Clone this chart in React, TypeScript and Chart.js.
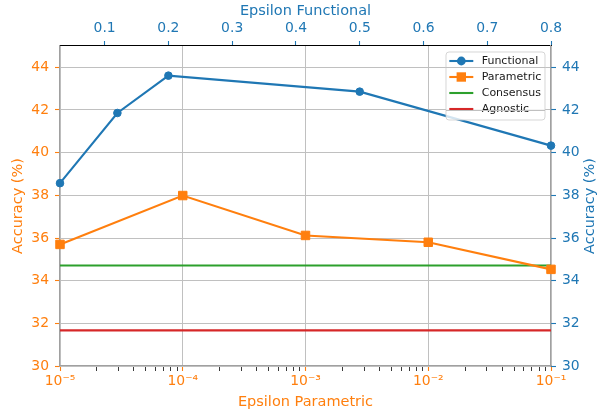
import React, { useEffect, useRef } from 'react';
import { Chart, registerables } from 'chart.js';

Chart.register(...registerables);

// ---- data ----
const functionalEps = [0.03, 0.12, 0.2, 0.5, 0.8];
const functionalAcc = [38.57, 41.86, 43.61, 42.86, 40.33];
const parametricEps = [1e-5, 1e-4, 1e-3, 1e-2, 1e-1];
const parametricAcc = [35.7, 37.99, 36.12, 35.8, 34.53];
const consensusAcc = 34.71;
const agnosticAcc = 31.67;
const topTickValues = [0.1, 0.2, 0.3, 0.4, 0.5, 0.6, 0.7, 0.8];
const yTickValues = [30, 32, 34, 36, 38, 40, 42, 44];
const logExponents = [-5, -4, -3, -2, -1];
const seriesLabels = ['Functional', 'Parametric', 'Consensus', 'Agnostic'];
const yTitle = 'Accuracy (%)';

const BLUE = '#1f77b4';
const ORANGE = '#ff7f0e';
const GREEN = '#2ca02c';
const RED = '#d62728';
const GRID = '#c0c0c0';
const SPINE = '#a0a0a0';
const FONT = 'DejaVu Sans';
const TITLE_SIZE = 14.5;

const SUP: Record<string, string> = {
  '-': '\u207B', '0': '\u2070', '1': '\u00B9', '2': '\u00B2', '3': '\u00B3',
  '4': '\u2074', '5': '\u2075', '6': '\u2076', '7': '\u2077', '8': '\u2078', '9': '\u2079',
};
const sup = (s: string) => s.split('').map((c) => SUP[c] ?? c).join('');

const isMajor = (v: number) => {
  const l = Math.log10(v);
  return Math.abs(l - Math.round(l)) < 1e-6;
};

const legendPlugin = {
  id: 'mplLegend',
  afterDatasetsDraw(chart: any) {
    const { ctx, chartArea } = chart;
    const w = 99;
    const h = 68;
    const x1 = chartArea.right - 6;
    const x0 = x1 - w;
    const y0 = chartArea.top + 6;
    ctx.save();
    ctx.beginPath();
    if (ctx.roundRect) ctx.roundRect(x0, y0, w, h, 3);
    else ctx.rect(x0, y0, w, h);
    ctx.fillStyle = 'rgba(255,255,255,0.8)';
    ctx.fill();
    ctx.strokeStyle = 'rgba(204,204,204,0.8)';
    ctx.lineWidth = 1;
    ctx.stroke();

    chart.data.datasets.forEach((ds: any, i: number) => {
      const cy = y0 + 9 + i * 16;
      ctx.strokeStyle = ds.borderColor;
      ctx.lineWidth = 2.1;
      ctx.beginPath();
      ctx.moveTo(x0 + 3.3, cy);
      ctx.lineTo(x0 + 27.3, cy);
      ctx.stroke();
      const mx = x0 + 15.3;
      if (ds.pointRadius > 0) {
        ctx.fillStyle = ds.borderColor;
        ctx.beginPath();
        if (ds.pointStyle === 'rect') {
          ctx.rect(mx - 4.7, cy - 4.7, 9.4, 9.4);
        } else {
          ctx.arc(mx, cy, 4.4, 0, Math.PI * 2);
        }
        ctx.fill();
      }
      ctx.fillStyle = '#1a1a1a';
      ctx.font = `11px "${FONT}"`;
      ctx.textBaseline = 'middle';
      ctx.textAlign = 'left';
      ctx.fillText(ds.label, x0 + 35.7, cy);
    });

    // grid of the twin axis drawn over the legend
    ctx.beginPath();
    ctx.rect(x0, y0, w, h);
    ctx.clip();
    const ys = chart.scales.yLeft;
    ctx.strokeStyle = GRID;
    ctx.lineWidth = 1;
    ys.ticks.forEach((t: any) => {
      const py = Math.round(ys.getPixelForValue(t.value)) + 0.5;
      ctx.beginPath();
      ctx.moveTo(x0, py);
      ctx.lineTo(x1, py);
      ctx.stroke();
    });
    ctx.restore();
  },
};

// right axis title, reading bottom-to-top like the left one
const rightTitlePlugin = {
  id: 'rightTitle',
  afterDraw(chart: any) {
    const { ctx, chartArea } = chart;
    const sc = chart.scales.yRight;
    ctx.save();
    ctx.translate(sc.right - TITLE_SIZE * 0.6, (chartArea.top + chartArea.bottom) / 2);
    ctx.rotate(-Math.PI / 2);
    ctx.font = `${TITLE_SIZE}px "${FONT}"`;
    ctx.fillStyle = BLUE;
    ctx.textAlign = 'center';
    ctx.textBaseline = 'middle';
    ctx.fillText(yTitle, 0, 0);
    ctx.restore();
  },
};

export default function App() {
  const canvasRef = useRef<HTMLCanvasElement | null>(null);

  useEffect(() => {
    document.body.style.margin = '0';
    const canvas = canvasRef.current;
    if (!canvas) return;
    Chart.defaults.font.family = FONT;

    const tickFont = { family: FONT, size: 13.9 };
    const titleFont = { family: FONT, size: TITLE_SIZE };

    const chart = new Chart(canvas, {
      type: 'line',
      data: {
        datasets: [
          {
            label: seriesLabels[0],
            data: functionalEps.map((x, i) => ({ x, y: functionalAcc[i] })),
            xAxisID: 'xTop',
            yAxisID: 'yRight',
            borderColor: BLUE,
            backgroundColor: BLUE,
            pointBackgroundColor: BLUE,
            pointBorderColor: BLUE,
            borderWidth: 2.1,
            pointRadius: 3.8,
            pointBorderWidth: 1,
            pointStyle: 'circle',
            clip: false as any,
          },
          {
            label: seriesLabels[1],
            data: parametricEps.map((x, i) => ({ x, y: parametricAcc[i] })),
            xAxisID: 'xBottom',
            yAxisID: 'yLeft',
            borderColor: ORANGE,
            backgroundColor: ORANGE,
            pointBackgroundColor: ORANGE,
            pointBorderColor: ORANGE,
            borderWidth: 2.1,
            pointRadius: 6,
            pointBorderWidth: 1,
            pointStyle: 'rect',
            clip: false as any,
          },
          {
            label: seriesLabels[2],
            data: [
              { x: parametricEps[0], y: consensusAcc },
              { x: parametricEps[parametricEps.length - 1], y: consensusAcc },
            ],
            xAxisID: 'xBottom',
            yAxisID: 'yLeft',
            borderColor: GREEN,
            backgroundColor: GREEN,
            borderWidth: 2.1,
            pointRadius: 0,
          },
          {
            label: seriesLabels[3],
            data: [
              { x: parametricEps[0], y: agnosticAcc },
              { x: parametricEps[parametricEps.length - 1], y: agnosticAcc },
            ],
            xAxisID: 'xBottom',
            yAxisID: 'yLeft',
            borderColor: RED,
            backgroundColor: RED,
            borderWidth: 2.1,
            pointRadius: 0,
          },
        ],
      },
      options: {
        responsive: false,
        animation: false,
        events: [],
        layout: { padding: 0 },
        plugins: {
          legend: { display: false },
          tooltip: { enabled: false },
        },
        scales: {
          xBottom: {
            type: 'logarithmic',
            position: 'bottom',
            min: 1e-5,
            max: 1e-1,
            afterBuildTicks: (scale: any) => {
              const vals: number[] = [];
              logExponents.forEach((e) => {
                if (e === logExponents[logExponents.length - 1]) {
                  vals.push(Math.pow(10, e));
                } else {
                  for (let k = 1; k <= 9; k++) vals.push(k * Math.pow(10, e));
                }
              });
              scale.ticks = vals.map((v) => ({ value: v }));
            },
            afterFit: (scale: any) => {
              scale.height = 46;
            },
            ticks: {
              autoSkip: false,
              maxRotation: 0,
              minRotation: 0,
              padding: 2,
              color: ORANGE,
              font: tickFont,
              callback: (v: any) => {
                const n = Number(v);
                if (!isMajor(n)) return '';
                return '10' + sup(String(Math.round(Math.log10(n))));
              },
            },
            grid: {
              drawOnChartArea: true,
              drawTicks: true,
              tickLength: 5,
              lineWidth: 1,
              color: (c: any) => (c.tick && isMajor(c.tick.value) ? GRID : 'rgba(0,0,0,0)'),
              tickColor: (c: any) => (c.tick && isMajor(c.tick.value) ? ORANGE : '#222'),
              tickWidth: (c: any) => (c.tick && isMajor(c.tick.value) ? 1.1 : 0.9),
            },
            border: { display: true, color: SPINE, width: 1.1 },
            title: {
              display: true,
              text: 'Epsilon Parametric',
              color: ORANGE,
              font: titleFont,
              padding: { top: 0, bottom: 1 },
            },
          },
          xTop: {
            type: 'linear',
            position: 'top',
            min: 0.03,
            max: 0.8,
            afterBuildTicks: (scale: any) => {
              scale.ticks = topTickValues.map((v) => ({ value: v }));
            },
            afterFit: (scale: any) => {
              scale.height = 46;
            },
            ticks: {
              autoSkip: false,
              maxRotation: 0,
              padding: 4,
              color: BLUE,
              font: tickFont,
              callback: (v: any) => Number(v).toFixed(1),
            },
            grid: {
              drawOnChartArea: false,
              drawTicks: true,
              tickLength: 5,
              tickColor: BLUE,
              tickWidth: 1.1,
            },
            border: { display: true, color: '#000', width: 1.1 },
            title: {
              display: true,
              text: 'Epsilon Functional',
              color: BLUE,
              font: titleFont,
              padding: { top: 3, bottom: 0 },
            },
          },
          yLeft: {
            type: 'linear',
            position: 'left',
            min: 30,
            max: 45,
            afterBuildTicks: (scale: any) => {
              scale.ticks = yTickValues.map((v) => ({ value: v }));
            },
            afterFit: (scale: any) => {
              scale.width = 60;
            },
            ticks: {
              padding: 6,
              color: ORANGE,
              font: tickFont,
              callback: (v: any) => String(v),
            },
            grid: {
              drawOnChartArea: true,
              drawTicks: true,
              tickLength: 5,
              color: GRID,
              lineWidth: 1,
              tickColor: ORANGE,
              tickWidth: 1.1,
            },
            border: { display: true, color: SPINE, width: 1.1 },
            title: {
              display: true,
              text: yTitle,
              color: ORANGE,
              font: titleFont,
              padding: { top: 10, bottom: 0 },
            },
          },
          yRight: {
            type: 'linear',
            position: 'right',
            min: 30,
            max: 45,
            afterBuildTicks: (scale: any) => {
              scale.ticks = yTickValues.map((v) => ({ value: v }));
            },
            afterFit: (scale: any) => {
              scale.width = 48;
            },
            ticks: {
              padding: 6,
              color: BLUE,
              font: tickFont,
              callback: (v: any) => String(v),
            },
            grid: {
              drawOnChartArea: false,
              drawTicks: true,
              tickLength: 5,
              tickColor: BLUE,
              tickWidth: 1.1,
            },
            border: { display: true, color: SPINE, width: 1.1 },
            title: { display: false },
          },
        },
      } as any,
      plugins: [legendPlugin, rightTitlePlugin],
    });

    return () => {
      chart.destroy();
    };
  }, []);

  return (
    <div style={{ width: 599, height: 412, position: 'relative' }}>
      <canvas ref={canvasRef} width={599} height={412} style={{ display: 'block' }} />
    </div>
  );
}
